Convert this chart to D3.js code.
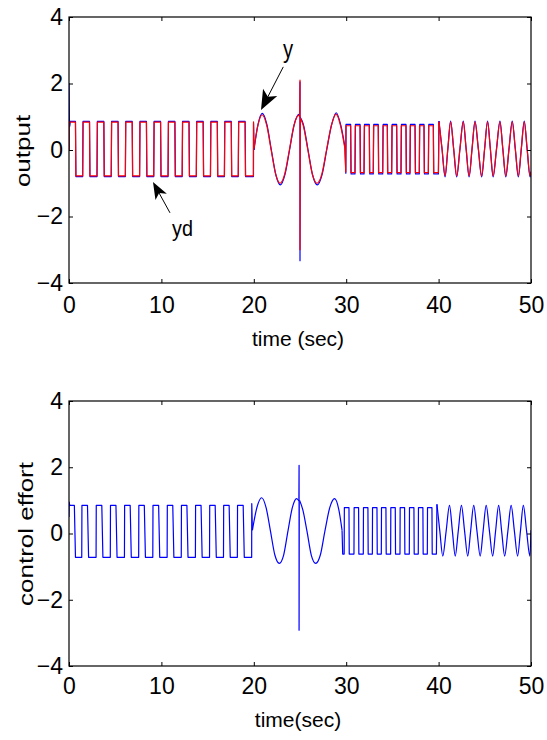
<!DOCTYPE html>
<html><head><meta charset="utf-8">
<script src="https://cdn.jsdelivr.net/npm/d3@7"></script>
<style>html,body{margin:0;padding:0;background:#fff;} svg{display:block;}</style>
</head><body><svg id="c" width="547" height="740"></svg>
<script>
// ---------- tick values ----------
const xTicks = [0, 10, 20, 30, 40, 50];
const yTicks = [-4, -2, 0, 2, 4];

// ---------- OUTPUT panel: reference yd (red) ----------
const ydStart = [[0, 0], [0.01, 0.84]];
const ydRiseA = [1.48, 3.03, 4.57, 6.10, 7.64, 9.17, 10.72, 12.25, 13.78, 15.31, 16.82, 18.32];
const ydFallA = [0.70, 2.22, 3.77, 5.31, 6.84, 8.38, 9.91, 11.46, 12.99, 14.52, 16.05, 17.56, 19.06];
const ydLevelA = [0.84, -0.78];
const ydJumpAB = [[19.96, -0.78], [19.97, 0.85], [20.02, 0.05]];
const ydSineB1 = [[20.02,0.05],[20.45,0.75],[20.9,1.06],[21.4,0.74],[21.88,0.0],[22.38,-0.74],[22.85,-1.0],[23.35,-0.72],[23.85,0.0],[24.35,0.74],[24.85,1.04],[24.97,1.0]];
const ydSpike = [[24.97,1.0],[25.0,2.1],[25.0,-3.0],[25.03,0.96]];
const ydSineB2 = [[25.03,0.96],[25.35,0.74],[25.85,0.0],[26.35,-0.74],[26.85,-1.0],[27.37,-0.72],[27.87,0.0],[28.4,0.74],[28.9,1.08],[29.4,0.72],[29.85,0.06]];
const ydJumpBC = [[29.85,0.06],[29.95,-0.66],[29.97,0.73]];
const ydRiseC = [30.95, 31.93, 32.93, 33.95, 34.92, 35.93, 36.90, 37.91, 38.89];
const ydFallC = [30.48, 31.50, 32.50, 33.47, 34.45, 35.46, 36.47, 37.45, 38.42, 39.43];
const ydLevelC = [0.73, -0.68];
const ydJumpCD = [[39.98,-0.68],[40.04,0.85]];
const ydWaveD = [[40.04,0.85],[40.37,0.04],[40.70,-0.78],[41.00,0.04],[41.30,0.85],[41.63,0.04],[41.96,-0.78],[42.31,0.04],[42.67,0.85],[42.98,0.04],[43.30,-0.78],[43.62,0.04],[43.94,0.85],[44.30,0.04],[44.66,-0.78],[44.98,0.04],[45.30,0.85],[45.60,0.04],[45.90,-0.78],[46.27,0.04],[46.64,0.85],[46.95,0.04],[47.27,-0.78],[47.62,0.04],[47.97,0.85],[48.30,0.04],[48.63,-0.78],[48.95,0.04],[49.27,0.85],[49.58,0.04],[49.90,-0.78],[50.00,-0.65]];

// ---------- OUTPUT panel: plant output y (blue) ----------
const yStart = [[0, 0], [0.005, 2.0], [0.04, 0.95], [0.08, 0.72], [0.15, 0.86]];
const yLevelA = [0.86, -0.80];
const yJumpAB = [[19.96,-0.80],[19.97,0.80],[20.02,0.0]];
const ySineB1 = [[20.02,0.0],[20.45,0.76],[20.92,1.1],[21.42,0.76],[21.9,0.0],[22.4,-0.76],[22.87,-1.05],[23.37,-0.74],[23.87,0.0],[24.37,0.76],[24.87,1.07],[24.97,1.0]];
const ySpike = [[24.97,1.0],[25.0,2.05],[25.0,-3.33],[25.03,0.98]];
const ySineB2 = [[25.03,0.98],[25.37,0.76],[25.87,0.0],[26.37,-0.76],[26.87,-1.05],[27.39,-0.74],[27.89,0.0],[28.42,0.76],[28.92,1.12],[29.42,0.74],[29.87,0.08]];
const yJumpBC = [[29.87,0.08],[29.96,-0.70],[29.98,0.77]];
const yLevelC = [0.77, -0.72];
const yJumpCD = [[39.98,-0.72],[40.04,0.87]];
const yWaveD = [[40.04,0.87],[40.37,0.03],[40.70,-0.81],[41.00,0.03],[41.30,0.87],[41.63,0.03],[41.96,-0.81],[42.31,0.03],[42.67,0.87],[42.98,0.03],[43.30,-0.81],[43.62,0.03],[43.94,0.87],[44.30,0.03],[44.66,-0.81],[44.98,0.03],[45.30,0.87],[45.60,0.03],[45.90,-0.81],[46.27,0.03],[46.64,0.87],[46.95,0.03],[47.27,-0.81],[47.62,0.03],[47.97,0.87],[48.30,0.03],[48.63,-0.81],[48.95,0.03],[49.27,0.87],[49.58,0.03],[49.90,-0.81],[50.00,-0.66]];

// ---------- CONTROL EFFORT panel (blue) ----------
const uStart = [[0, 0.5], [0.02, 0.95], [0.08, 0.85]];
const uRiseA = [1.38, 2.93, 4.47, 6.00, 7.54, 9.07, 10.62, 12.15, 13.68, 15.21, 16.72, 18.22];
const uFallA = [0.58, 2.00, 3.55, 5.08, 6.62, 8.15, 9.70, 11.23, 12.76, 14.29, 15.82, 17.33, 18.85];
const uLevelA = [0.85, -0.72];
const uJumpAB = [[19.77,-0.72],[19.78,0.9],[19.85,0.1]];
const uSineB1 = [[19.85,0.1],[20.35,0.8],[20.85,1.08],[21.33,0.78],[21.8,0.08],[22.28,-0.65],[22.76,-0.9],[23.23,-0.65],[23.7,0.08],[24.17,0.78],[24.64,1.05],[24.88,0.98]];
const uSpike = [[24.88,0.98],[24.9,2.06],[24.9,-2.92],[24.92,1.0],[24.96,1.0]];
const uSineB2 = [[24.96,1.0],[25.3,0.72],[25.75,0.08],[26.22,-0.65],[26.7,-0.9],[27.2,-0.65],[27.7,0.08],[28.22,0.78],[28.75,1.05],[29.2,0.72],[29.55,0.1]];
const uJumpBC = [[29.55,0.1],[29.62,-0.62],[29.78,-0.62],[29.8,0.78]];
const uRiseC = [30.84, 31.85, 32.83, 33.80, 34.81, 35.82, 36.83, 37.80, 38.78];
const uFallC = [30.30, 31.34, 32.35, 33.33, 34.30, 35.31, 36.32, 37.33, 38.30, 39.28];
const uLevelC = [0.78, -0.62];
const uJumpCD = [[39.76,-0.62],[39.82,0.88]];
const uWaveD = [[39.82,0.88],[40.13,0.08],[40.45,-0.68],[40.82,0.08],[41.18,0.85],[41.49,0.08],[41.80,-0.68],[42.13,0.08],[42.47,0.85],[42.81,0.08],[43.15,-0.68],[43.47,0.08],[43.80,0.85],[44.15,0.08],[44.50,-0.68],[44.82,0.08],[45.15,0.85],[45.50,0.08],[45.85,-0.68],[46.17,0.08],[46.50,0.85],[46.82,0.08],[47.15,-0.68],[47.50,0.08],[47.85,0.85],[48.20,0.08],[48.55,-0.68],[48.86,0.08],[49.17,0.85],[49.52,0.08],[49.88,-0.68],[50.00,0.1]];

// ---------- annotations (data coordinates) ----------
const annY  = {text: 'y',  tx: 23.7,  tv: 2.77,  from: [23.19, 2.50], to: [20.78, 1.20]};
const annYd = {text: 'yd', tx: 12.28, tv: -2.59, from: [10.93, -1.89], to: [9.09, -0.96]};

// ---------- build series ----------
function squareWave(t0, t1, rises, falls, levels, riseDur, fallDur) {
  const hi = levels[0], lo = levels[1];
  const ev = rises.map(t => ({t, to: hi, d: riseDur}))
    .concat(falls.map(t => ({t, to: lo, d: fallDur})))
    .filter(e => e.t > t0 && e.t < t1).sort((a, b) => a.t - b.t);
  let level = ev.length && ev[0].to === hi ? lo : hi;
  const pts = [[t0, level]];
  ev.forEach(e => { pts.push([e.t, level]); pts.push([e.t + e.d, e.to]); level = e.to; });
  pts.push([t1, level]);
  return pts;
}
const L = d3.curveLinear, S = d3.curveMonotoneX;
const ydSegs = [
  {c: L, p: ydStart.concat(squareWave(0.01, 19.96, ydRiseA, ydFallA, ydLevelA, 0.04, 0.04), ydJumpAB)},
  {c: S, p: ydSineB1}, {c: L, p: ydSpike}, {c: S, p: ydSineB2},
  {c: L, p: ydJumpBC.concat(squareWave(29.97, 39.98, ydRiseC, ydFallC, ydLevelC, 0.03, 0.03), ydJumpCD)},
  {c: S, p: ydWaveD}
];
const ySegs = [
  {c: L, p: yStart.concat(squareWave(0.15, 19.96, ydRiseA, ydFallA, yLevelA, 0.04, 0.05), yJumpAB)},
  {c: S, p: ySineB1}, {c: L, p: ySpike}, {c: S, p: ySineB2},
  {c: L, p: yJumpBC.concat(squareWave(29.98, 39.98, ydRiseC, ydFallC, yLevelC, 0.05, 0.05), yJumpCD)},
  {c: S, p: yWaveD}
];
const uSegs = [
  {c: L, p: uStart.concat(squareWave(0.08, 19.77, uRiseA, uFallA, uLevelA, 0.02, 0.12), uJumpAB)},
  {c: S, p: uSineB1}, {c: L, p: uSpike}, {c: S, p: uSineB2},
  {c: L, p: uJumpBC.concat(squareWave(29.8, 39.76, uRiseC, uFallC, uLevelC, 0.02, 0.03), uJumpCD)},
  {c: S, p: uWaveD}
];

// ---------- drawing ----------
const FONT = "'Liberation Sans', Arial, Helvetica, sans-serif";
const svg = d3.select('#c');
const x = d3.scaleLinear().domain([0, 50]).range([69, 531]);

const panels = [
  {top: 17, bottom: 283, ylabel: 'output', ylabX: 30, ylabY: 151, xlabel: 'time (sec)', xlabY: 346, pad: 14,
   series: [{segs: ySegs, color: '#0000ff'}, {segs: ydSegs, color: '#ff0000'}], ann: [annY, annYd]},
  {top: 401, bottom: 666, ylabel: 'control effort', ylabX: 33, ylabY: 534, xlabel: 'time(sec)', xlabY: 727, pad: 12,
   series: [{segs: uSegs, color: '#0000ff'}], ann: []}
];

panels.forEach(p => {
  const y = d3.scaleLinear().domain([-4, 4]).range([p.bottom, p.top]);
  const g = svg.append('g');
  const clipId = 'clip' + p.top;
  svg.append('clipPath').attr('id', clipId).append('rect')
    .attr('x', x(0)).attr('y', y(4)).attr('width', x(50) - x(0)).attr('height', y(-4) - y(4));

  // lines
  const lg = g.append('g').attr('clip-path', `url(#${clipId})`);
  p.series.forEach(s => {
    s.segs.forEach(seg => {
      lg.append('path')
        .attr('d', d3.line().x(d => x(d[0])).y(d => y(d[1])).curve(seg.c)(seg.p))
        .attr('fill', 'none').attr('stroke', s.color).attr('stroke-width', 1.2)
        .attr('stroke-linejoin', 'round');
    });
  });

  // axes
  const styleAxis = sel => {
    sel.select('.domain').remove();
    sel.selectAll('line').attr('stroke', '#000').attr('stroke-width', 1);
    sel.selectAll('text').attr('fill', '#000').style('font-family', FONT).style('font-size', '23px');
  };
  g.append('g').attr('transform', `translate(0,${p.bottom})`)
    .call(d3.axisBottom(x).tickValues(xTicks).tickSize(-4).tickPadding(p.pad).tickFormat(d3.format('d'))).call(styleAxis);
  g.append('g').attr('transform', `translate(0,${p.top})`)
    .call(d3.axisTop(x).tickValues(xTicks).tickSize(-4).tickFormat('')).call(styleAxis);
  g.append('g').attr('transform', `translate(${x(0)},0)`)
    .call(d3.axisLeft(y).tickValues(yTicks).tickSize(-4).tickPadding(6).tickFormat(d3.format('d'))).call(styleAxis);
  g.append('g').attr('transform', `translate(${x(50)},0)`)
    .call(d3.axisRight(y).tickValues(yTicks).tickSize(-4).tickFormat('')).call(styleAxis);

  g.append('rect').attr('x', x(0)).attr('y', y(4)).attr('width', x(50) - x(0)).attr('height', y(-4) - y(4))
    .attr('fill', 'none').attr('stroke', '#000').attr('stroke-width', 1.2);

  // labels
  g.append('text').text(p.xlabel).attr('x', (x(0) + x(50)) / 2 - 2).attr('y', p.xlabY)
    .attr('text-anchor', 'middle').style('font-family', FONT).style('font-size', '21px');
  g.append('text').text(p.ylabel)
    .attr('transform', `translate(${p.ylabX},${p.ylabY}) rotate(-90) scale(1,0.76)`)
    .attr('text-anchor', 'middle').style('font-family', FONT).style('font-size', '26px');

  // annotations
  p.ann.forEach(a => {
    const x0 = x(a.from[0]), y0 = y(a.from[1]), x1 = x(a.to[0]), y1 = y(a.to[1]);
    const dx = x1 - x0, dy = y1 - y0, len = Math.hypot(dx, dy);
    const ux = dx / len, uy = dy / len, px = -uy, py = ux;
    const big = a.text === 'y';
    const hl = big ? 20 : 17, hw = big ? 8 : 6.5;
    g.append('line').attr('x1', x0).attr('y1', y0).attr('x2', x1 - ux * hl * 0.7).attr('y2', y1 - uy * hl * 0.7)
      .attr('stroke', '#000').attr('stroke-width', 1);
    const bx = x1 - ux * hl, by = y1 - uy * hl;
    const head = [[x1, y1], [bx + px * hw, by + py * hw], [x1 - ux * hl * 0.75, y1 - uy * hl * 0.75], [bx - px * hw, by - py * hw]];
    g.append('path').attr('d', 'M' + head.map(d => d.join(',')).join('L') + 'Z').attr('fill', '#000');
    g.append('text').text(a.text)
      .attr('transform', `translate(${x(a.tx)},${y(a.tv)}) scale(${big ? 0.78 : 0.9},1)`)
      .attr('text-anchor', 'middle').style('font-family', FONT).style('font-size', big ? '26px' : '22px');
  });
});
</script>
</body></html>
